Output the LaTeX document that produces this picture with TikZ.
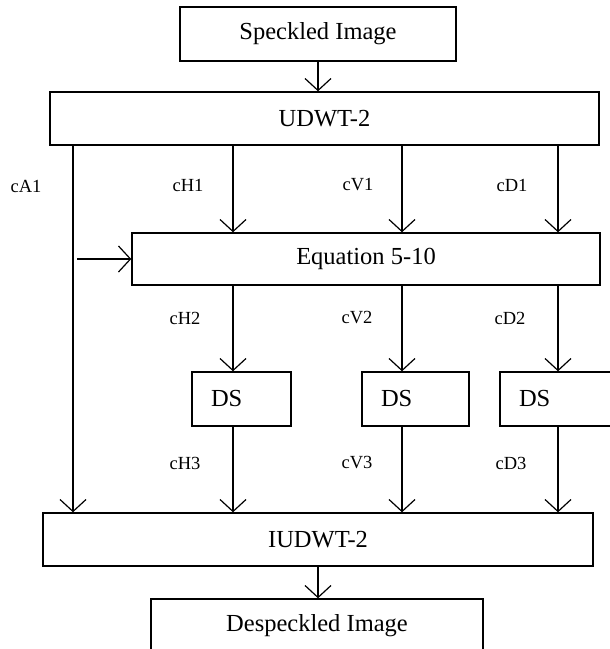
\documentclass[tikz,border=0pt]{standalone}
\usepackage{fontspec}
\setmainfont{Liberation Serif}
\usetikzlibrary{arrows.meta}

\tikzset{
    block/.style = {draw, line width = 0.7pt, inner sep = 0pt, font = \fontsize{12.25}{14}\selectfont},
    ds/.style = {inner xsep = 9.5pt, text width = #1, align = left, minimum height = 27pt},
    flow/.style = {line width = 0.6pt, -{Straight Barb[length = 6pt, width = 13pt]}},
    band/.style = {font = \fontsize{9.25}{11}\selectfont},
}

\begin{document}
\begin{tikzpicture}[x = 0.5pt, y = -0.5pt]
            \useasboundingbox (0, 0) rectangle (610, 649);
            \clip (0, 0) rectangle (610, 649);

            \path
                (73, 0) coordinate (colA)
                (233, 0) coordinate (colH)
                (402, 0) coordinate (colV)
                (558, 0) coordinate (colD)
            ;

            \draw
                (318, 34) node (spk) [block, minimum width = 138pt, minimum height = 27pt] {Speckled Image}
                (324.5, 118.5) node (udwt) [block, minimum width = 274.5pt, minimum height = 26.5pt] {UDWT-2}
                (366, 259) node (eq) [block, minimum width = 234pt, minimum height = 26pt] {Equation 5-10}
                (241.5, 399) node (dsH) [block, ds = 30.5pt] {DS}
                (415.5, 399) node (dsV) [block, ds = 34.5pt] {DS}
                (556, 399) node (dsD) [block, ds = 37pt] {DS}
                (318, 539.5) node (iudwt) [block, minimum width = 275pt, minimum height = 26.5pt] {IUDWT-2}
                (317, 626) node (desp) [block, minimum width = 166pt, minimum height = 27pt] {Despeckled Image}

                (26, 186) node (lblA1) [band] {cA1}
                (188, 185) node (lblH1) [band] {cH1}
                (358, 185) node (lblV1) [band] {cV1}
                (512, 185) node (lblD1) [band] {cD1}
                (185, 318) node (lblH2) [band] {cH2}
                (357, 318) node (lblV2) [band] {cV2}
                (510, 318) node (lblD2) [band] {cD2}
                (185, 463) node (lblH3) [band] {cH3}
                (357, 463) node (lblV3) [band] {cV3}
                (511, 463) node (lblD3) [band] {cD3}

                (spk.south) edge [flow] (spk.south |- udwt.north)
                (udwt.south -| colA) edge [flow] (iudwt.north -| colA)
                (udwt.south -| colH) edge [flow] (eq.north -| colH)
                (udwt.south -| colV) edge [flow] (eq.north -| colV)
                (udwt.south -| colD) edge [flow] (eq.north -| colD)
                (colA |- eq.west) edge [flow, shorten <= 2pt] (eq.west)

                (eq.south -| colH) edge [flow] (dsH.north -| colH)
                (eq.south -| colV) edge [flow] (dsV.north -| colV)
                (eq.south -| colD) edge [flow] (dsD.north -| colD)

                (dsH.south -| colH) edge [flow] (iudwt.north -| colH)
                (dsV.south -| colV) edge [flow] (iudwt.north -| colV)
                (dsD.south -| colD) edge [flow] (iudwt.north -| colD)

                (iudwt.south) edge [flow] (iudwt.south |- desp.north)
            ;
        \end{tikzpicture}
\end{document}
